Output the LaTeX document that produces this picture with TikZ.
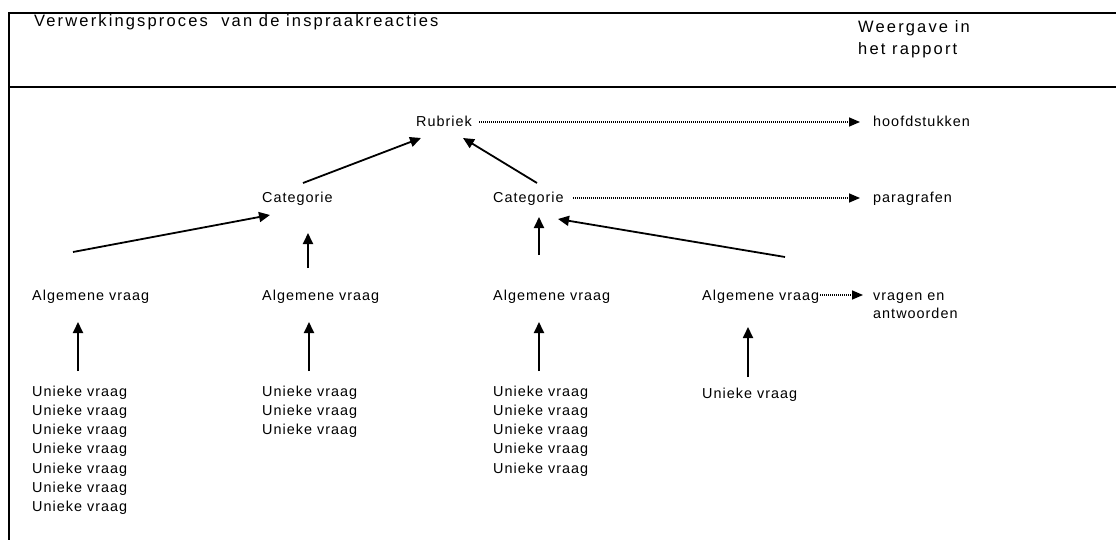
\documentclass[tikz,border=0pt]{standalone}
\usepackage{fontspec}
\setmainfont{Liberation Sans}[LetterSpace=7]
\newfontfamily\titlefont{Liberation Sans}[LetterSpace=13]
\usetikzlibrary{arrows.meta,calc}
\begin{document}
\begin{tikzpicture}[x=1pt,y=-1pt,
  txt/.style={anchor=base west, inner sep=0pt, font=\fontsize{14.4}{16}\selectfont},
  head/.style={anchor=base west, inner sep=0pt, font=\titlefont\fontsize{16.5}{18}\selectfont},
  frame/.style={line width=2.2pt},
  arr/.style={line width=1.8pt, -{Triangle[length=11pt,width=10pt]}},
  dots/.style={line width=1.5pt, dash pattern=on 1pt off 1pt, -{Triangle[length=11pt,width=9pt]}}]
\useasboundingbox (0,0) rectangle (1116,540);
\fill[white] (0,0) rectangle (1116,540);
% frame
\coordinate (fTL) at (9,13);
\coordinate (fTR) at (1116,13);
\coordinate (fML) at (9,87);
\coordinate (fMR) at (1116,87);
\coordinate (fBL) at (9,540);
\draw[frame] (fTR) -- (fTL) -- (fBL);
\draw[frame] (fML) -- (fMR);
% header
\node[head] (title) at (34,27) {Verwerkingsproces\ \ van de inspraakreacties};
\node[head] (weer1) at (858,33) {Weergave in};
\node[head] (weer2) at (858,55) {het rapport};
% nodes
\node[txt] (rub) at (416,127) {Rubriek};
\node[txt] (hoofd) at (873,127) {hoofdstukken};
\node[txt] (catL) at (262,203) {Categorie};
\node[txt] (catR) at (493,203) {Categorie};
\node[txt] (par) at (873,203) {paragrafen};
\node[txt] (alg1) at (32,300) {Algemene\ vraag};
\node[txt] (alg2) at (262,300) {Algemene\ vraag};
\node[txt] (alg3) at (493,300) {Algemene\ vraag};
\node[txt] (alg4) at (702,300) {Algemene\ vraag};
\node[txt] (vra1) at (873,300) {vragen\ en};
\node[txt] (vra2) at (873,318) {antwoorden};
\foreach \i in {1,...,7} \node[txt] (ua\i) at (32,{396+19.3*(\i-1)}) {Unieke vraag};
\foreach \i in {1,...,3} \node[txt] (ub\i) at (262,{396+19.3*(\i-1)}) {Unieke vraag};
\foreach \i in {1,...,5} \node[txt] (uc\i) at (493,{396+19.3*(\i-1)}) {Unieke vraag};
\node[txt] (ud1) at (702,398) {Unieke vraag};
% dotted connectors
\draw[dots] ($(rub.base east)+(7,-5)$) -- ($(hoofd.base west)+(-13,-5)$);
\draw[dots] ($(catR.base east)+(9,-5)$) -- ($(par.base west)+(-13,-5)$);
\draw[dots] ($(alg4.base east)+(1,-5)$) -- ($(vra1.base west)+(-10,-5)$);
% solid connectors
\coordinate (t1) at (73,252);  \coordinate (h1) at (270,215);
\coordinate (t2) at (303,183); \coordinate (h2) at (421,138);
\coordinate (t3) at (537,183); \coordinate (h3) at (463,138);
\coordinate (t4) at (308,268); \coordinate (h4) at (308,233);
\coordinate (t5) at (539,255); \coordinate (h5) at (539,217);
\coordinate (t6) at (785,257); \coordinate (h6) at (558,219);
\coordinate (t7) at (78,371);  \coordinate (h7) at (78,322);
\coordinate (t8) at (309,371); \coordinate (h8) at (309,322);
\coordinate (t9) at (539,371); \coordinate (h9) at (539,322);
\coordinate (t10) at (748,377); \coordinate (h10) at (748,327);
\foreach \k in {1,...,10} \draw[arr] (t\k) -- (h\k);
\end{tikzpicture}
\end{document}
